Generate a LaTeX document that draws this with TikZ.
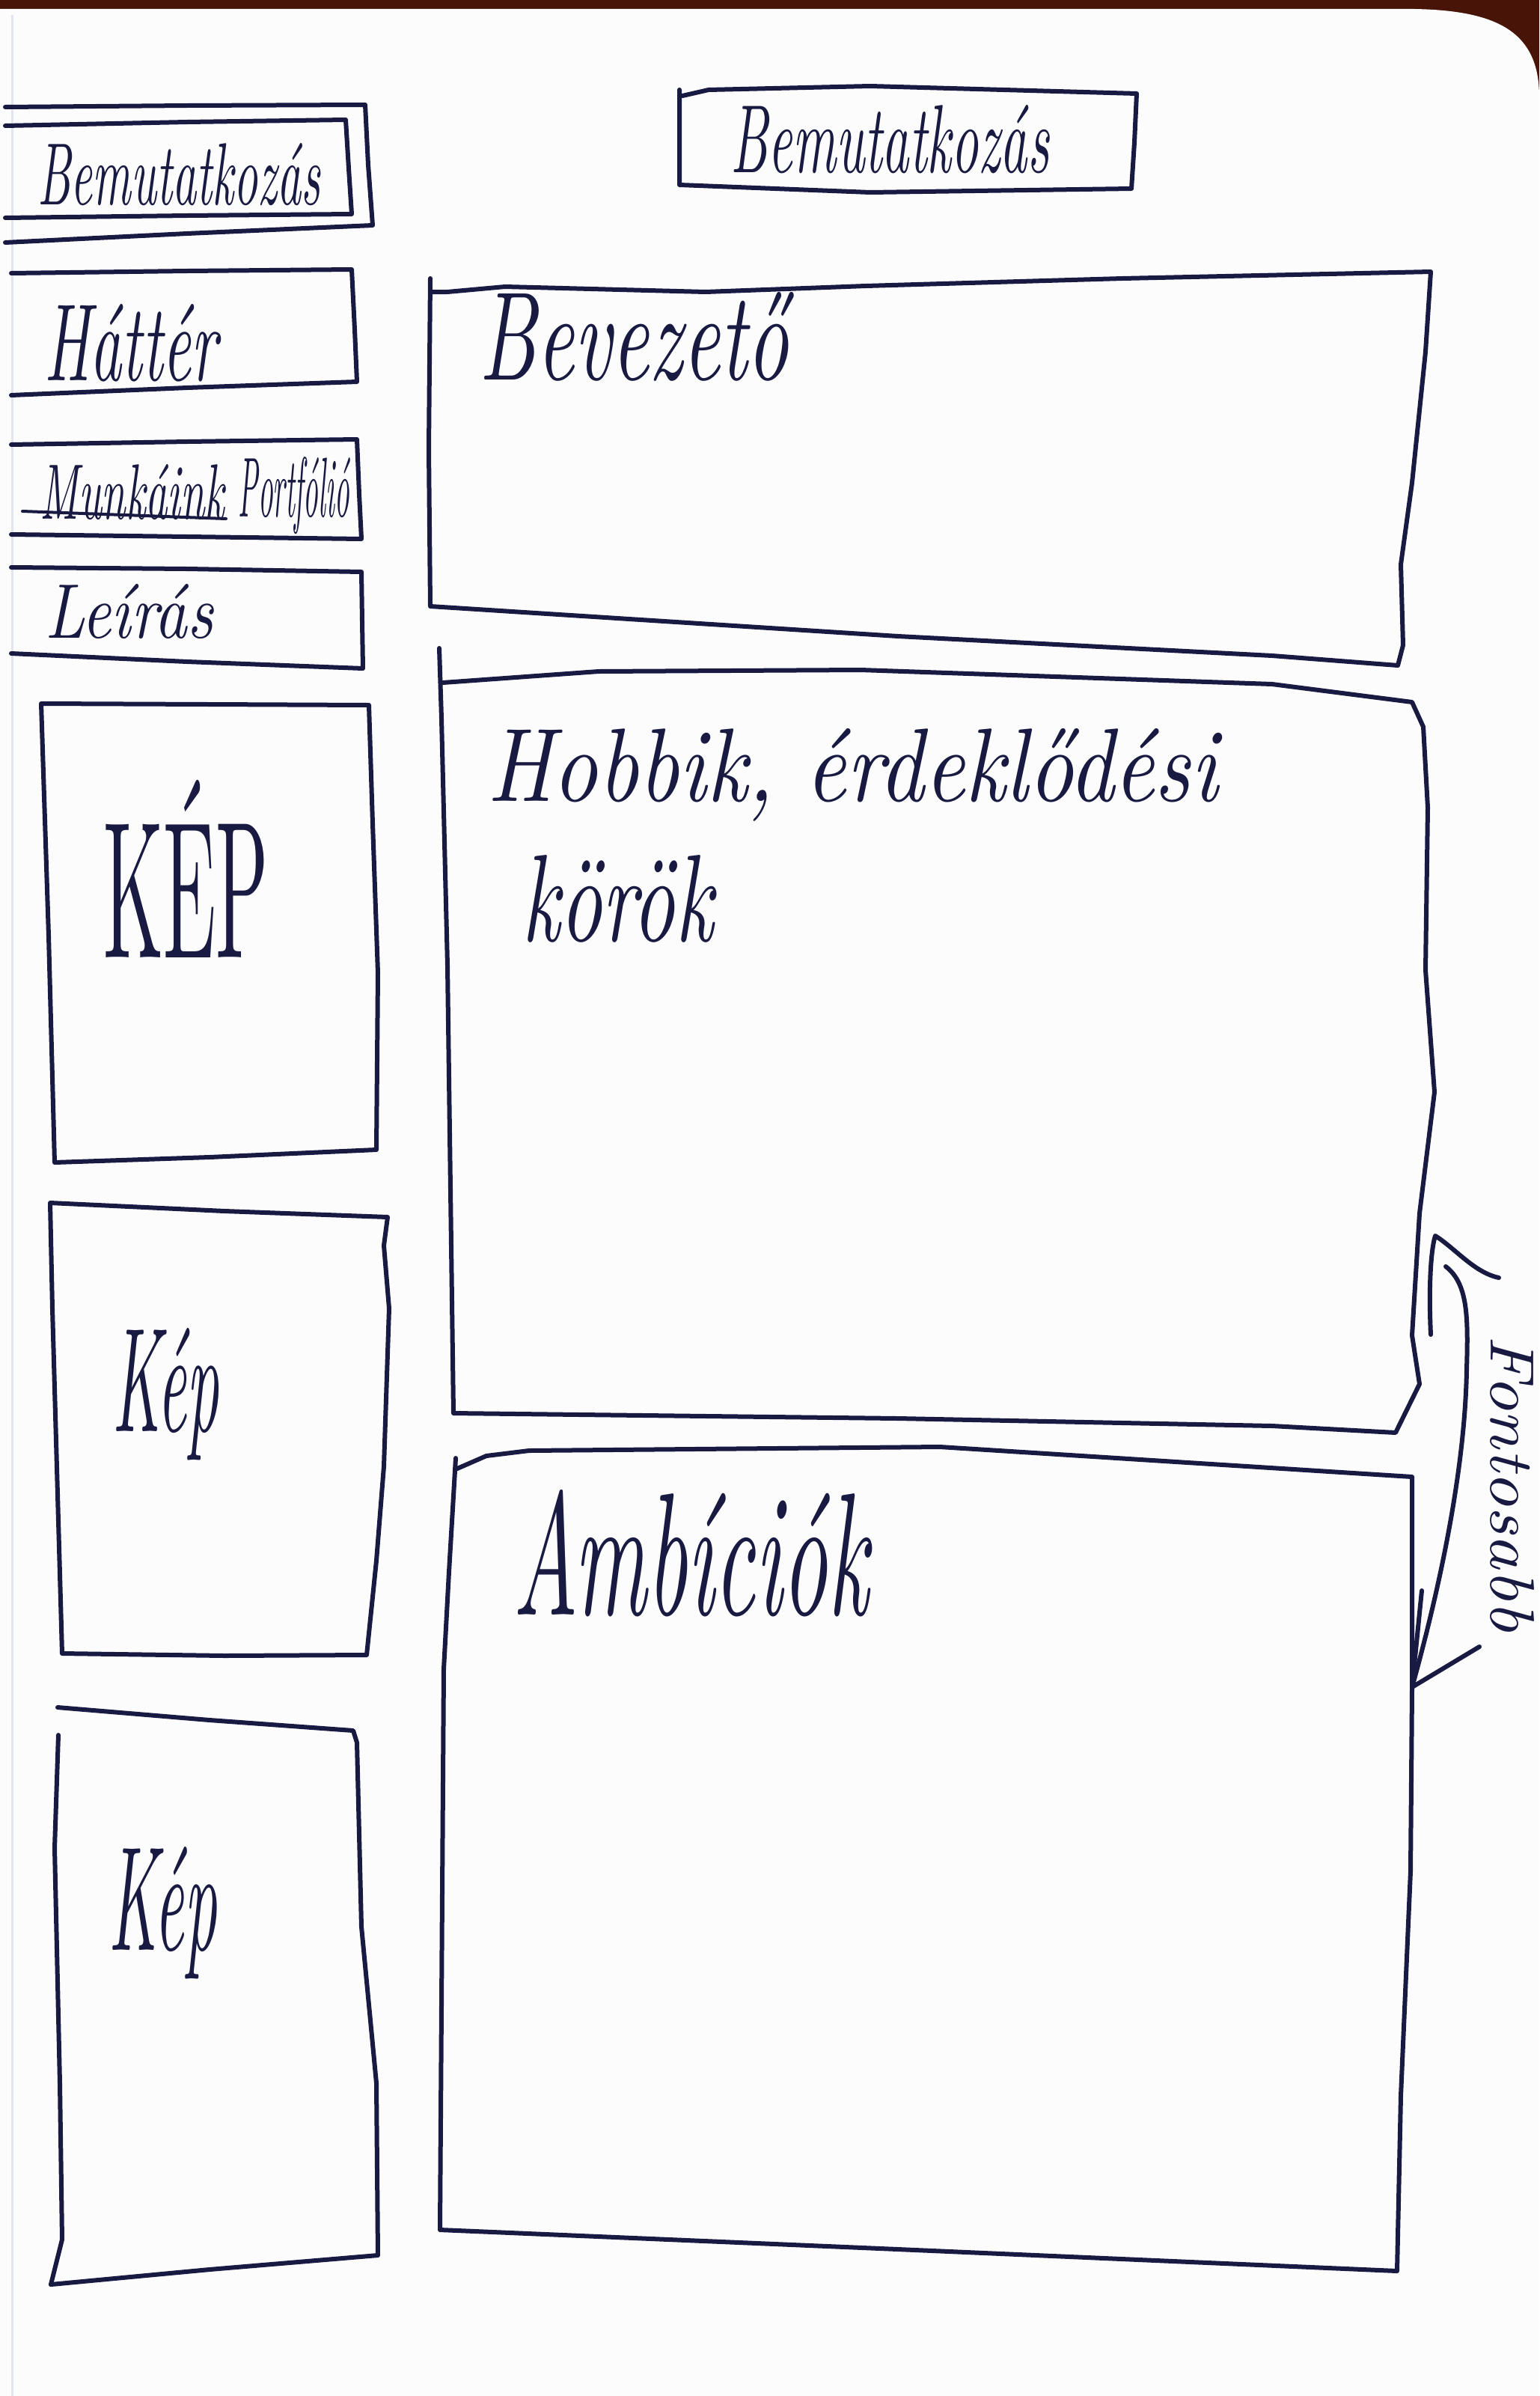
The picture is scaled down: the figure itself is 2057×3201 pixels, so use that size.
\documentclass[tikz,border=0pt]{standalone}
\usepackage{fontspec}
\usepackage{graphicx}
\definecolor{ink}{RGB}{24,26,66}
\definecolor{paper}{RGB}{252,252,253}
\definecolor{cover}{RGB}{72,20,8}
\definecolor{margin}{RGB}{224,229,238}
% handwritten-looking label stretched to a given width and height
\newcommand{\hw}[4][\itshape]{\resizebox{#2pt}{#3pt}{#1 #4}}
\begin{document}
\begin{tikzpicture}[x=1pt,y=-1pt,
  sketch/.style={draw=ink, line width=6pt, line join=round, line cap=round},
  hand/.style={inner sep=0pt, outer sep=0pt, text=ink, anchor=base west}]
\useasboundingbox (0,0) rectangle (2057,3201);
% notebook page on its cover
\fill[cover] (0,0) rectangle (2057,3201);
\fill[paper] (0,12) -- (1890,12) .. controls (2005,14) and (2057,45) .. (2057,130) -- (2057,3201) -- (0,3201) -- cycle;
\draw[margin, line width=3pt] (16,20) -- (16,3201);

% ---- left column: menu ----
\draw[sketch] (7,143) -- (250,141) -- (488,140) -- (492,220) -- (498,301) -- (250,312) -- (7,324);
\draw[sketch] (7,168) -- (250,163) -- (462,160) -- (466,225) -- (470,286) -- (250,288) -- (7,291);
\node[hand] (menuintro) at (28,273) {\hw{400}{82}{Bemutatkozás}};

\draw[sketch] (15,365) -- (250,362) -- (470,360) -- (474,440) -- (477,510) -- (250,518) -- (15,528);
\node[hand] (background) at (30,508) {\hw{260}{102}{Háttér}};

\draw[sketch] (15,594) -- (250,590) -- (477,587) -- (480,660) -- (483,720) -- (250,717) -- (15,714);
\node[hand] (works) at (33,693) {\hw{267}{73}{Munkáink}};
\draw[sketch, line width=4pt] (30,683) -- (302,693);
\node[hand] (portfolio) at (305,690) {\hw{162}{80}{Portfólió}};

\draw[sketch] (15,758) -- (250,760) -- (483,764) -- (484,830) -- (485,893) -- (250,884) -- (15,873);
\node[hand] (descr) at (30,852) {\hw{255}{72}{Leírás}};

% ---- left column: pictures ----
\draw[sketch] (55,940) -- (280,941) -- (493,942) -- (498,1100) -- (505,1300) -- (503,1536) -- (280,1546) -- (73,1553) -- (65,1250) -- cycle;
\node[hand] (pic1) at (104,1279) {\hw[\upshape]{255}{237}{KÉP}};

\draw[sketch] (67,1607) -- (300,1618) -- (518,1626) -- (513,1664) -- (520,1748) -- (513,1959) -- (503,2085) -- (490,2211) -- (300,2212) -- (83,2209) -- (70,1748) -- cycle;
\node[hand] (pic2) at (120,1912) {\hw{173}{138}{Kép}};

\draw[sketch] (77,2281) -- (280,2298) -- (472,2312) -- (477,2328) -- (483,2574) -- (503,2783) -- (505,3013) -- (280,3032) -- (68,3052);
\draw[sketch] (78,2318) -- (73,2469) -- (80,2783) -- (83,2992) -- (68,3052);
\node[hand] (pic3) at (115,2605) {\hw{175}{138}{Kép}};

% ---- right column ----
\draw[sketch] (908,120) -- (908,247) -- (1163,257) -- (1512,252) -- (1516,190) -- (1519,125) -- (1163,115) -- (947,120) -- (912,128);
\node[hand] (title) at (951,230) {\hw{451}{90}{Bemutatkozás}};

\draw[sketch] (575,372) -- (573,600) -- (575,810) -- (1200,850) -- (1700,876) -- (1868,889) -- (1875,862) -- (1872,754) -- (1887,645) -- (1905,470) -- (1912,363) -- (1500,372) -- (1157,382) -- (943,390) -- (675,383) -- (598,390) -- (575,390);
\node[hand] (intro) at (602,507) {\hw{452}{117}{Bevezető}};

\draw[sketch] (587,866) -- (590,960) -- (598,1290) -- (606,1888) -- (1200,1895) -- (1700,1905) -- (1865,1914) -- (1897,1849) -- (1887,1784) -- (1897,1621) -- (1917,1459) -- (1905,1296) -- (1908,1079) -- (1902,971) -- (1887,938) -- (1700,914) -- (1150,895) -- (800,897) -- (592,912);
\node[hand] (hobby) at (609,1070) {\hw{1018}{97}{Hobbik, érdeklődési}};
\node[hand] (hobby2) at (658,1257) {\hw{295}{115}{körök}};

\draw[sketch] (609,1948) -- (600,2100) -- (593,2230) -- (588,2979) -- (1200,3005) -- (1867,3034) -- (1872,2800) -- (1885,2500) -- (1887,2256) -- (1887,2091) -- (1887,1973) -- (1256,1933) -- (707,1938) -- (650,1945) -- (611,1962);
\node[hand] (ambition) at (643,2157) {\hw{517}{167}{Ambíciók}};

% ---- side note with bent arrow ----
\coordinate (notetop) at (1918,1651);
\coordinate (notetip) at (1887,2254);
\draw[sketch] (1912,1783) .. controls (1909,1720) and (1912,1670) .. (notetop) .. controls (1945,1668) and (1970,1700) .. (2003,1707);
\draw[sketch] (1932,1692) .. controls (1962,1715) and (1962,1760) .. (1960,1830) .. controls (1958,1950) and (1930,2100) .. (notetip);
\draw[sketch] (1900,2125) -- (notetip) -- (1977,2200);
\node[hand, rotate=-90] (important) at (1992,1752) {\hw{428}{58}{Fontosabb}};
\end{tikzpicture}
\end{document}
